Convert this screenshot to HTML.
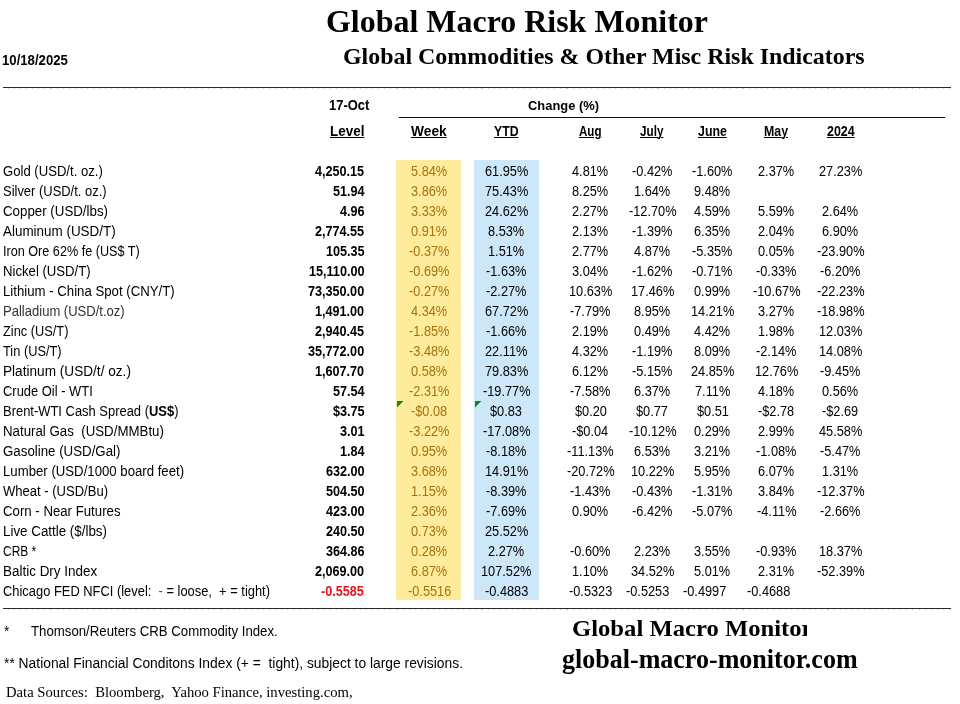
<!DOCTYPE html>
<html lang="en"><head><meta charset="utf-8"><title>Global Macro Risk Monitor</title>
<style>
html,body{margin:0;padding:0;background:#fff}
#p{position:relative;width:960px;height:704px;overflow:hidden;background:#fff;font-family:"Liberation Sans",Arial,sans-serif;color:#000}
.t{position:absolute;white-space:pre;line-height:20px;transform-origin:0 0;font-family:"Liberation Sans",Arial,sans-serif}
.s{font-family:"Liberation Serif","Times New Roman",serif}
.b{font-weight:bold}
.u{text-decoration:underline;text-decoration-thickness:1px;text-underline-offset:0.8px}
.r{position:absolute;background:#000}
.d{background:repeating-linear-gradient(90deg,transparent 0,transparent 5px,rgba(0,0,0,.22) 5px,rgba(0,0,0,.22) 6.07px)}
</style></head>
<body><div id="p">

<div class="r" style="left:3px;top:87px;width:948px;height:1px;background:#2a2a2a"></div>
<div class="r" style="left:3px;top:608px;width:948px;height:1px;background:#2a2a2a"></div>
<div class="r d" style="left:3px;top:88px;width:948px;height:1px"></div>
<div class="r d" style="left:3px;top:609px;width:948px;height:1px"></div>
<div class="r" style="left:399px;top:117px;width:546px;height:1px;background:#111"></div>
<div class="r" style="left:396px;top:160px;width:65px;height:440px;background:#ffeb9c"></div>
<div class="r" style="left:474px;top:160px;width:65px;height:440px;background:#cce8f8"></div>
<svg style="position:absolute;left:397px;top:401px" width="8" height="8"><path d="M0 0H6.5L0 6.5Z" fill="#0e8a1c"/></svg>
<svg style="position:absolute;left:475px;top:401px" width="8" height="8"><path d="M0 0H6.5L0 6.5Z" fill="#0e8a1c"/></svg>
<span class="t s b" style="left:325.70px;top:12.27px;font-size:31.5px;transform:scaleX(1.0145);">Global Macro Risk Monitor</span>
<span class="t s b" style="left:343.30px;top:47.30px;font-size:22.8px;transform:scaleX(1.0490);">Global Commodities &amp; Other Misc Risk Indicators</span>
<span class="t b" style="left:2.20px;top:50.62px;font-size:13.8px;transform:scaleX(0.9542);">10/18/2025</span>
<span class="t b" style="left:328.60px;top:95.62px;font-size:13.8px;transform:scaleX(0.9382);">17-Oct</span>
<span class="t b" style="left:528.20px;top:95.76px;font-size:13.4px;transform:scaleX(0.9639);">Change (%)</span>
<span class="t b u" style="left:330.30px;top:121.62px;font-size:13.8px;transform:scaleX(0.9750);">Level</span>
<span class="t b u" style="left:411.30px;top:121.62px;font-size:13.8px;transform:scaleX(0.9973);">Week</span>
<span class="t b u" style="left:494.05px;top:121.62px;font-size:13.8px;transform:scaleX(0.8874);">YTD</span>
<span class="t b u" style="left:579.20px;top:121.62px;font-size:13.8px;transform:scaleX(0.8387);">Aug</span>
<span class="t b u" style="left:640.30px;top:121.62px;font-size:13.8px;transform:scaleX(0.8475);">July</span>
<span class="t b u" style="left:697.90px;top:121.62px;font-size:13.8px;transform:scaleX(0.8974);">June</span>
<span class="t b u" style="left:764.40px;top:121.62px;font-size:13.8px;transform:scaleX(0.8941);">May</span>
<span class="t b u" style="left:827.00px;top:121.62px;font-size:13.8px;transform:scaleX(0.9022);">2024</span>
<span class="t" style="left:3.30px;top:161.62px;font-size:13.8px;transform:scaleX(0.9501);">Gold (USD/t. oz.)</span>
<span class="t b" style="left:315.15px;top:161.62px;font-size:13.8px;transform:scaleX(0.9150);">4,250.15</span>
<span class="t" style="left:410.70px;top:161.62px;font-size:13.8px;transform:scaleX(0.9250);color:#a67210;">5.84%</span>
<span class="t" style="left:484.66px;top:161.62px;font-size:13.8px;transform:scaleX(0.9250);">61.95%</span>
<span class="t" style="left:572.40px;top:161.62px;font-size:13.8px;transform:scaleX(0.9250);">4.81%</span>
<span class="t" style="left:632.08px;top:161.62px;font-size:13.8px;transform:scaleX(0.9250);">-0.42%</span>
<span class="t" style="left:692.28px;top:161.62px;font-size:13.8px;transform:scaleX(0.9250);">-1.60%</span>
<span class="t" style="left:758.40px;top:161.62px;font-size:13.8px;transform:scaleX(0.9250);">2.37%</span>
<span class="t" style="left:818.66px;top:161.62px;font-size:13.8px;transform:scaleX(0.9250);">27.23%</span>
<span class="t" style="left:3.30px;top:181.62px;font-size:13.8px;transform:scaleX(0.9385);">Silver (USD/t. oz.)</span>
<span class="t b" style="left:332.70px;top:181.62px;font-size:13.8px;transform:scaleX(0.9150);">51.94</span>
<span class="t" style="left:410.70px;top:181.62px;font-size:13.8px;transform:scaleX(0.9250);color:#a67210;">3.86%</span>
<span class="t" style="left:484.66px;top:181.62px;font-size:13.8px;transform:scaleX(0.9250);">75.43%</span>
<span class="t" style="left:572.40px;top:181.62px;font-size:13.8px;transform:scaleX(0.9250);">8.25%</span>
<span class="t" style="left:634.20px;top:181.62px;font-size:13.8px;transform:scaleX(0.9250);">1.64%</span>
<span class="t" style="left:694.40px;top:181.62px;font-size:13.8px;transform:scaleX(0.9250);">9.48%</span>
<span class="t" style="left:3.30px;top:201.62px;font-size:13.8px;transform:scaleX(0.9644);">Copper (USD/lbs)</span>
<span class="t b" style="left:339.72px;top:201.62px;font-size:13.8px;transform:scaleX(0.9150);">4.96</span>
<span class="t" style="left:410.70px;top:201.62px;font-size:13.8px;transform:scaleX(0.9250);color:#a67210;">3.33%</span>
<span class="t" style="left:484.66px;top:201.62px;font-size:13.8px;transform:scaleX(0.9250);">24.62%</span>
<span class="t" style="left:572.40px;top:201.62px;font-size:13.8px;transform:scaleX(0.9250);">2.27%</span>
<span class="t" style="left:628.53px;top:201.62px;font-size:13.8px;transform:scaleX(0.9250);">-12.70%</span>
<span class="t" style="left:694.40px;top:201.62px;font-size:13.8px;transform:scaleX(0.9250);">4.59%</span>
<span class="t" style="left:758.40px;top:201.62px;font-size:13.8px;transform:scaleX(0.9250);">5.59%</span>
<span class="t" style="left:822.20px;top:201.62px;font-size:13.8px;transform:scaleX(0.9250);">2.64%</span>
<span class="t" style="left:3.30px;top:221.62px;font-size:13.8px;transform:scaleX(0.9735);">Aluminum (USD/T)</span>
<span class="t b" style="left:315.15px;top:221.62px;font-size:13.8px;transform:scaleX(0.9150);">2,774.55</span>
<span class="t" style="left:410.70px;top:221.62px;font-size:13.8px;transform:scaleX(0.9250);color:#a67210;">0.91%</span>
<span class="t" style="left:488.20px;top:221.62px;font-size:13.8px;transform:scaleX(0.9250);">8.53%</span>
<span class="t" style="left:572.40px;top:221.62px;font-size:13.8px;transform:scaleX(0.9250);">2.13%</span>
<span class="t" style="left:632.08px;top:221.62px;font-size:13.8px;transform:scaleX(0.9250);">-1.39%</span>
<span class="t" style="left:694.40px;top:221.62px;font-size:13.8px;transform:scaleX(0.9250);">6.35%</span>
<span class="t" style="left:758.40px;top:221.62px;font-size:13.8px;transform:scaleX(0.9250);">2.04%</span>
<span class="t" style="left:822.20px;top:221.62px;font-size:13.8px;transform:scaleX(0.9250);">6.90%</span>
<span class="t" style="left:3.30px;top:241.62px;font-size:13.8px;transform:scaleX(0.9157);">Iron Ore 62% fe (US$ T)</span>
<span class="t b" style="left:325.68px;top:241.62px;font-size:13.8px;transform:scaleX(0.9150);">105.35</span>
<span class="t" style="left:408.58px;top:241.62px;font-size:13.8px;transform:scaleX(0.9250);color:#a67210;">-0.37%</span>
<span class="t" style="left:488.20px;top:241.62px;font-size:13.8px;transform:scaleX(0.9250);">1.51%</span>
<span class="t" style="left:572.40px;top:241.62px;font-size:13.8px;transform:scaleX(0.9250);">2.77%</span>
<span class="t" style="left:634.20px;top:241.62px;font-size:13.8px;transform:scaleX(0.9250);">4.87%</span>
<span class="t" style="left:692.28px;top:241.62px;font-size:13.8px;transform:scaleX(0.9250);">-5.35%</span>
<span class="t" style="left:758.40px;top:241.62px;font-size:13.8px;transform:scaleX(0.9250);">0.05%</span>
<span class="t" style="left:816.53px;top:241.62px;font-size:13.8px;transform:scaleX(0.9250);">-23.90%</span>
<span class="t" style="left:3.30px;top:261.62px;font-size:13.8px;transform:scaleX(0.9534);">Nickel (USD/T)</span>
<span class="t b" style="left:308.83px;top:261.62px;font-size:13.8px;transform:scaleX(0.9150);">15,110.00</span>
<span class="t" style="left:408.58px;top:261.62px;font-size:13.8px;transform:scaleX(0.9250);color:#a67210;">-0.69%</span>
<span class="t" style="left:486.08px;top:261.62px;font-size:13.8px;transform:scaleX(0.9250);">-1.63%</span>
<span class="t" style="left:572.40px;top:261.62px;font-size:13.8px;transform:scaleX(0.9250);">3.04%</span>
<span class="t" style="left:632.08px;top:261.62px;font-size:13.8px;transform:scaleX(0.9250);">-1.62%</span>
<span class="t" style="left:692.28px;top:261.62px;font-size:13.8px;transform:scaleX(0.9250);">-0.71%</span>
<span class="t" style="left:756.28px;top:261.62px;font-size:13.8px;transform:scaleX(0.9250);">-0.33%</span>
<span class="t" style="left:820.08px;top:261.62px;font-size:13.8px;transform:scaleX(0.9250);">-6.20%</span>
<span class="t" style="left:3.30px;top:281.62px;font-size:13.8px;transform:scaleX(0.9570);">Lithium - China Spot (CNY/T)</span>
<span class="t b" style="left:308.13px;top:281.62px;font-size:13.8px;transform:scaleX(0.9150);">73,350.00</span>
<span class="t" style="left:408.58px;top:281.62px;font-size:13.8px;transform:scaleX(0.9250);color:#a67210;">-0.27%</span>
<span class="t" style="left:486.08px;top:281.62px;font-size:13.8px;transform:scaleX(0.9250);">-2.27%</span>
<span class="t" style="left:568.86px;top:281.62px;font-size:13.8px;transform:scaleX(0.9250);">10.63%</span>
<span class="t" style="left:630.66px;top:281.62px;font-size:13.8px;transform:scaleX(0.9250);">17.46%</span>
<span class="t" style="left:694.40px;top:281.62px;font-size:13.8px;transform:scaleX(0.9250);">0.99%</span>
<span class="t" style="left:752.73px;top:281.62px;font-size:13.8px;transform:scaleX(0.9250);">-10.67%</span>
<span class="t" style="left:816.53px;top:281.62px;font-size:13.8px;transform:scaleX(0.9250);">-22.23%</span>
<span class="t" style="left:3.30px;top:301.62px;font-size:13.8px;transform:scaleX(0.9448);color:#333;">Palladium (USD/t.oz)</span>
<span class="t b" style="left:315.15px;top:301.62px;font-size:13.8px;transform:scaleX(0.9150);">1,491.00</span>
<span class="t" style="left:410.70px;top:301.62px;font-size:13.8px;transform:scaleX(0.9250);color:#a67210;">4.34%</span>
<span class="t" style="left:484.66px;top:301.62px;font-size:13.8px;transform:scaleX(0.9250);">67.72%</span>
<span class="t" style="left:570.28px;top:301.62px;font-size:13.8px;transform:scaleX(0.9250);">-7.79%</span>
<span class="t" style="left:634.20px;top:301.62px;font-size:13.8px;transform:scaleX(0.9250);">8.95%</span>
<span class="t" style="left:690.86px;top:301.62px;font-size:13.8px;transform:scaleX(0.9250);">14.21%</span>
<span class="t" style="left:758.40px;top:301.62px;font-size:13.8px;transform:scaleX(0.9250);">3.27%</span>
<span class="t" style="left:816.53px;top:301.62px;font-size:13.8px;transform:scaleX(0.9250);">-18.98%</span>
<span class="t" style="left:3.30px;top:321.62px;font-size:13.8px;transform:scaleX(0.9282);">Zinc (US/T)</span>
<span class="t b" style="left:315.15px;top:321.62px;font-size:13.8px;transform:scaleX(0.9150);">2,940.45</span>
<span class="t" style="left:408.58px;top:321.62px;font-size:13.8px;transform:scaleX(0.9250);color:#a67210;">-1.85%</span>
<span class="t" style="left:486.08px;top:321.62px;font-size:13.8px;transform:scaleX(0.9250);">-1.66%</span>
<span class="t" style="left:572.40px;top:321.62px;font-size:13.8px;transform:scaleX(0.9250);">2.19%</span>
<span class="t" style="left:634.20px;top:321.62px;font-size:13.8px;transform:scaleX(0.9250);">0.49%</span>
<span class="t" style="left:694.40px;top:321.62px;font-size:13.8px;transform:scaleX(0.9250);">4.42%</span>
<span class="t" style="left:758.40px;top:321.62px;font-size:13.8px;transform:scaleX(0.9250);">1.98%</span>
<span class="t" style="left:818.66px;top:321.62px;font-size:13.8px;transform:scaleX(0.9250);">12.03%</span>
<span class="t" style="left:3.30px;top:341.62px;font-size:13.8px;transform:scaleX(0.9285);">Tin (US/T)</span>
<span class="t b" style="left:308.13px;top:341.62px;font-size:13.8px;transform:scaleX(0.9150);">35,772.00</span>
<span class="t" style="left:408.58px;top:341.62px;font-size:13.8px;transform:scaleX(0.9250);color:#a67210;">-3.48%</span>
<span class="t" style="left:485.13px;top:341.62px;font-size:13.8px;transform:scaleX(0.9250);">22.11%</span>
<span class="t" style="left:572.40px;top:341.62px;font-size:13.8px;transform:scaleX(0.9250);">4.32%</span>
<span class="t" style="left:632.08px;top:341.62px;font-size:13.8px;transform:scaleX(0.9250);">-1.19%</span>
<span class="t" style="left:694.40px;top:341.62px;font-size:13.8px;transform:scaleX(0.9250);">8.09%</span>
<span class="t" style="left:756.28px;top:341.62px;font-size:13.8px;transform:scaleX(0.9250);">-2.14%</span>
<span class="t" style="left:818.66px;top:341.62px;font-size:13.8px;transform:scaleX(0.9250);">14.08%</span>
<span class="t" style="left:3.30px;top:361.62px;font-size:13.8px;transform:scaleX(0.9874);">Platinum (USD/t/ oz.)</span>
<span class="t b" style="left:315.15px;top:361.62px;font-size:13.8px;transform:scaleX(0.9150);">1,607.70</span>
<span class="t" style="left:410.70px;top:361.62px;font-size:13.8px;transform:scaleX(0.9250);color:#a67210;">0.58%</span>
<span class="t" style="left:484.66px;top:361.62px;font-size:13.8px;transform:scaleX(0.9250);">79.83%</span>
<span class="t" style="left:572.40px;top:361.62px;font-size:13.8px;transform:scaleX(0.9250);">6.12%</span>
<span class="t" style="left:632.08px;top:361.62px;font-size:13.8px;transform:scaleX(0.9250);">-5.15%</span>
<span class="t" style="left:690.86px;top:361.62px;font-size:13.8px;transform:scaleX(0.9250);">24.85%</span>
<span class="t" style="left:754.86px;top:361.62px;font-size:13.8px;transform:scaleX(0.9250);">12.76%</span>
<span class="t" style="left:820.08px;top:361.62px;font-size:13.8px;transform:scaleX(0.9250);">-9.45%</span>
<span class="t" style="left:3.30px;top:381.62px;font-size:13.8px;transform:scaleX(0.9371);">Crude Oil - WTI</span>
<span class="t b" style="left:332.70px;top:381.62px;font-size:13.8px;transform:scaleX(0.9150);">57.54</span>
<span class="t" style="left:408.58px;top:381.62px;font-size:13.8px;transform:scaleX(0.9250);color:#a67210;">-2.31%</span>
<span class="t" style="left:482.53px;top:381.62px;font-size:13.8px;transform:scaleX(0.9250);">-19.77%</span>
<span class="t" style="left:570.28px;top:381.62px;font-size:13.8px;transform:scaleX(0.9250);">-7.58%</span>
<span class="t" style="left:634.20px;top:381.62px;font-size:13.8px;transform:scaleX(0.9250);">6.37%</span>
<span class="t" style="left:694.87px;top:381.62px;font-size:13.8px;transform:scaleX(0.9250);">7.11%</span>
<span class="t" style="left:758.40px;top:381.62px;font-size:13.8px;transform:scaleX(0.9250);">4.18%</span>
<span class="t" style="left:822.20px;top:381.62px;font-size:13.8px;transform:scaleX(0.9250);">0.56%</span>
<span class="t" style="left:3.30px;top:401.62px;font-size:13.8px;transform:scaleX(0.9377);">Brent-WTI Cash Spread (<b>US$</b>)</span>
<span class="t b" style="left:332.70px;top:401.62px;font-size:13.8px;transform:scaleX(0.9150);">$3.75</span>
<span class="t" style="left:410.70px;top:401.62px;font-size:13.8px;transform:scaleX(0.9250);color:#a67210;">-$0.08</span>
<span class="t" style="left:490.33px;top:401.62px;font-size:13.8px;transform:scaleX(0.9250);">$0.83</span>
<span class="t" style="left:574.53px;top:401.62px;font-size:13.8px;transform:scaleX(0.9250);">$0.20</span>
<span class="t" style="left:636.33px;top:401.62px;font-size:13.8px;transform:scaleX(0.9250);">$0.77</span>
<span class="t" style="left:696.53px;top:401.62px;font-size:13.8px;transform:scaleX(0.9250);">$0.51</span>
<span class="t" style="left:758.40px;top:401.62px;font-size:13.8px;transform:scaleX(0.9250);">-$2.78</span>
<span class="t" style="left:822.20px;top:401.62px;font-size:13.8px;transform:scaleX(0.9250);">-$2.69</span>
<span class="t" style="left:3.30px;top:421.62px;font-size:13.8px;transform:scaleX(0.9627);">Natural Gas&nbsp; (USD/MMBtu)</span>
<span class="t b" style="left:339.72px;top:421.62px;font-size:13.8px;transform:scaleX(0.9150);">3.01</span>
<span class="t" style="left:408.58px;top:421.62px;font-size:13.8px;transform:scaleX(0.9250);color:#a67210;">-3.22%</span>
<span class="t" style="left:482.53px;top:421.62px;font-size:13.8px;transform:scaleX(0.9250);">-17.08%</span>
<span class="t" style="left:572.40px;top:421.62px;font-size:13.8px;transform:scaleX(0.9250);">-$0.04</span>
<span class="t" style="left:628.53px;top:421.62px;font-size:13.8px;transform:scaleX(0.9250);">-10.12%</span>
<span class="t" style="left:694.40px;top:421.62px;font-size:13.8px;transform:scaleX(0.9250);">0.29%</span>
<span class="t" style="left:758.40px;top:421.62px;font-size:13.8px;transform:scaleX(0.9250);">2.99%</span>
<span class="t" style="left:818.66px;top:421.62px;font-size:13.8px;transform:scaleX(0.9250);">45.58%</span>
<span class="t" style="left:3.30px;top:441.62px;font-size:13.8px;transform:scaleX(0.9637);">Gasoline (USD/Gal)</span>
<span class="t b" style="left:339.72px;top:441.62px;font-size:13.8px;transform:scaleX(0.9150);">1.84</span>
<span class="t" style="left:410.70px;top:441.62px;font-size:13.8px;transform:scaleX(0.9250);color:#a67210;">0.95%</span>
<span class="t" style="left:486.08px;top:441.62px;font-size:13.8px;transform:scaleX(0.9250);">-8.18%</span>
<span class="t" style="left:567.20px;top:441.62px;font-size:13.8px;transform:scaleX(0.9250);">-11.13%</span>
<span class="t" style="left:634.20px;top:441.62px;font-size:13.8px;transform:scaleX(0.9250);">6.53%</span>
<span class="t" style="left:694.40px;top:441.62px;font-size:13.8px;transform:scaleX(0.9250);">3.21%</span>
<span class="t" style="left:756.28px;top:441.62px;font-size:13.8px;transform:scaleX(0.9250);">-1.08%</span>
<span class="t" style="left:820.08px;top:441.62px;font-size:13.8px;transform:scaleX(0.9250);">-5.47%</span>
<span class="t" style="left:3.30px;top:461.62px;font-size:13.8px;transform:scaleX(0.9560);">Lumber (USD/1000 board feet)</span>
<span class="t b" style="left:325.68px;top:461.62px;font-size:13.8px;transform:scaleX(0.9150);">632.00</span>
<span class="t" style="left:410.70px;top:461.62px;font-size:13.8px;transform:scaleX(0.9250);color:#a67210;">3.68%</span>
<span class="t" style="left:484.66px;top:461.62px;font-size:13.8px;transform:scaleX(0.9250);">14.91%</span>
<span class="t" style="left:566.73px;top:461.62px;font-size:13.8px;transform:scaleX(0.9250);">-20.72%</span>
<span class="t" style="left:630.66px;top:461.62px;font-size:13.8px;transform:scaleX(0.9250);">10.22%</span>
<span class="t" style="left:694.40px;top:461.62px;font-size:13.8px;transform:scaleX(0.9250);">5.95%</span>
<span class="t" style="left:758.40px;top:461.62px;font-size:13.8px;transform:scaleX(0.9250);">6.07%</span>
<span class="t" style="left:822.20px;top:461.62px;font-size:13.8px;transform:scaleX(0.9250);">1.31%</span>
<span class="t" style="left:3.30px;top:481.62px;font-size:13.8px;transform:scaleX(0.9445);">Wheat - (USD/Bu)</span>
<span class="t b" style="left:325.68px;top:481.62px;font-size:13.8px;transform:scaleX(0.9150);">504.50</span>
<span class="t" style="left:410.70px;top:481.62px;font-size:13.8px;transform:scaleX(0.9250);color:#a67210;">1.15%</span>
<span class="t" style="left:486.08px;top:481.62px;font-size:13.8px;transform:scaleX(0.9250);">-8.39%</span>
<span class="t" style="left:570.28px;top:481.62px;font-size:13.8px;transform:scaleX(0.9250);">-1.43%</span>
<span class="t" style="left:632.08px;top:481.62px;font-size:13.8px;transform:scaleX(0.9250);">-0.43%</span>
<span class="t" style="left:692.28px;top:481.62px;font-size:13.8px;transform:scaleX(0.9250);">-1.31%</span>
<span class="t" style="left:758.40px;top:481.62px;font-size:13.8px;transform:scaleX(0.9250);">3.84%</span>
<span class="t" style="left:816.53px;top:481.62px;font-size:13.8px;transform:scaleX(0.9250);">-12.37%</span>
<span class="t" style="left:3.30px;top:501.62px;font-size:13.8px;transform:scaleX(0.9577);">Corn - Near Futures</span>
<span class="t b" style="left:325.68px;top:501.62px;font-size:13.8px;transform:scaleX(0.9150);">423.00</span>
<span class="t" style="left:410.70px;top:501.62px;font-size:13.8px;transform:scaleX(0.9250);color:#a67210;">2.36%</span>
<span class="t" style="left:486.08px;top:501.62px;font-size:13.8px;transform:scaleX(0.9250);">-7.69%</span>
<span class="t" style="left:572.40px;top:501.62px;font-size:13.8px;transform:scaleX(0.9250);">0.90%</span>
<span class="t" style="left:632.08px;top:501.62px;font-size:13.8px;transform:scaleX(0.9250);">-6.42%</span>
<span class="t" style="left:692.28px;top:501.62px;font-size:13.8px;transform:scaleX(0.9250);">-5.07%</span>
<span class="t" style="left:756.75px;top:501.62px;font-size:13.8px;transform:scaleX(0.9250);">-4.11%</span>
<span class="t" style="left:820.08px;top:501.62px;font-size:13.8px;transform:scaleX(0.9250);">-2.66%</span>
<span class="t" style="left:3.30px;top:521.62px;font-size:13.8px;transform:scaleX(0.9687);">Live Cattle ($/lbs)</span>
<span class="t b" style="left:325.68px;top:521.62px;font-size:13.8px;transform:scaleX(0.9150);">240.50</span>
<span class="t" style="left:410.70px;top:521.62px;font-size:13.8px;transform:scaleX(0.9250);color:#a67210;">0.73%</span>
<span class="t" style="left:484.66px;top:521.62px;font-size:13.8px;transform:scaleX(0.9250);">25.52%</span>
<span class="t" style="left:3.30px;top:541.62px;font-size:13.8px;transform:scaleX(0.8659);">CRB *</span>
<span class="t b" style="left:325.68px;top:541.62px;font-size:13.8px;transform:scaleX(0.9150);">364.86</span>
<span class="t" style="left:410.70px;top:541.62px;font-size:13.8px;transform:scaleX(0.9250);color:#a67210;">0.28%</span>
<span class="t" style="left:488.20px;top:541.62px;font-size:13.8px;transform:scaleX(0.9250);">2.27%</span>
<span class="t" style="left:570.28px;top:541.62px;font-size:13.8px;transform:scaleX(0.9250);">-0.60%</span>
<span class="t" style="left:634.20px;top:541.62px;font-size:13.8px;transform:scaleX(0.9250);">2.23%</span>
<span class="t" style="left:694.40px;top:541.62px;font-size:13.8px;transform:scaleX(0.9250);">3.55%</span>
<span class="t" style="left:756.28px;top:541.62px;font-size:13.8px;transform:scaleX(0.9250);">-0.93%</span>
<span class="t" style="left:818.66px;top:541.62px;font-size:13.8px;transform:scaleX(0.9250);">18.37%</span>
<span class="t" style="left:3.30px;top:561.62px;font-size:13.8px;transform:scaleX(0.9749);">Baltic Dry Index</span>
<span class="t b" style="left:315.15px;top:561.62px;font-size:13.8px;transform:scaleX(0.9150);">2,069.00</span>
<span class="t" style="left:410.70px;top:561.62px;font-size:13.8px;transform:scaleX(0.9250);color:#a67210;">6.87%</span>
<span class="t" style="left:481.11px;top:561.62px;font-size:13.8px;transform:scaleX(0.9250);">107.52%</span>
<span class="t" style="left:572.40px;top:561.62px;font-size:13.8px;transform:scaleX(0.9250);">1.10%</span>
<span class="t" style="left:630.66px;top:561.62px;font-size:13.8px;transform:scaleX(0.9250);">34.52%</span>
<span class="t" style="left:694.40px;top:561.62px;font-size:13.8px;transform:scaleX(0.9250);">5.01%</span>
<span class="t" style="left:758.40px;top:561.62px;font-size:13.8px;transform:scaleX(0.9250);">2.31%</span>
<span class="t" style="left:816.53px;top:561.62px;font-size:13.8px;transform:scaleX(0.9250);">-52.39%</span>
<span class="t" style="left:3.30px;top:581.62px;font-size:13.8px;transform:scaleX(0.9347);">Chicago FED NFCI (level:&nbsp; <span style="color:#e8141c">-</span> = loose,&nbsp; + = tight)</span>
<span class="t b" style="left:321.48px;top:581.62px;font-size:13.8px;transform:scaleX(0.9150);color:#e8141c;">-0.5585</span>
<span class="t" style="left:407.76px;top:581.62px;font-size:13.8px;transform:scaleX(0.9250);color:#a67210;">-0.5516</span>
<span class="t" style="left:484.96px;top:581.62px;font-size:13.8px;transform:scaleX(0.9250);">-0.4883</span>
<span class="t" style="left:569.16px;top:581.62px;font-size:13.8px;transform:scaleX(0.9250);">-0.5323</span>
<span class="t" style="left:626.06px;top:581.62px;font-size:13.8px;transform:scaleX(0.9250);">-0.5253</span>
<span class="t" style="left:683.36px;top:581.62px;font-size:13.8px;transform:scaleX(0.9250);">-0.4997</span>
<span class="t" style="left:747.26px;top:581.62px;font-size:13.8px;transform:scaleX(0.9250);">-0.4688</span>
<span class="t" style="left:4.00px;top:621.72px;font-size:13.8px;transform:scaleX(1.0000);">*</span>
<span class="t" style="left:31.25px;top:621.72px;font-size:13.8px;transform:scaleX(0.9577);">Thomson/Reuters CRB Commodity Index.</span>
<span class="t" style="left:4.00px;top:653.52px;font-size:13.8px;transform:scaleX(1.0025);">** National Financial Conditons Index (+ =&nbsp; tight), subject to large revisions.</span>
<span class="t s" style="left:6.40px;top:682.14px;font-size:15px;transform:scaleX(0.9772);">Data Sources:&nbsp; Bloomberg,&nbsp; Yahoo Finance, investing.com,</span>
<span class="t s b" style="left:562.00px;top:648.86px;font-size:26.5px;transform:scaleX(0.9820);">global-macro-monitor.com</span>
<div style="position:absolute;left:560px;top:613.07px;width:246.5px;height:30px;overflow:hidden"><span class="t s b" style="left:12.20px;top:0;line-height:30px;font-size:23.5px;transform:scaleX(1.0489)">Global Macro Monitor</span></div>
</div></body></html>
